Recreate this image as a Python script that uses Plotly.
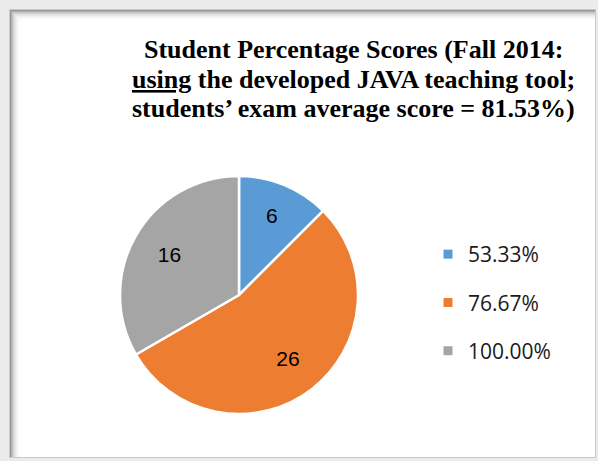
import plotly.graph_objects as go

categories = ["53.33%", "76.67%", "100.00%"]
counts = [6, 26, 16]
colors = ["#5B9BD5", "#ED7D31", "#A5A5A5"]
title_lines = [
    "Student Percentage Scores (Fall 2014:",
    "<u>using</u> the developed JAVA teaching tool;",
    "students\u2019 exam average score = 81.53%)",
]

W, H = 598, 461


def px(x):
    return x / W


def py(y):
    return 1 - y / H


pie_domain = dict(x=[px(120), px(358)], y=[py(414), py(176)])

fig = go.Figure()

# coloured slices
fig.add_trace(go.Pie(
    labels=categories,
    values=counts,
    sort=False,
    direction="clockwise",
    rotation=0,
    marker=dict(colors=colors, line=dict(color="white", width=2.5)),
    textinfo="none",
    showlegend=False,
    domain=pie_domain,
    hoverinfo="label+value",
))

# value labels (same data, ring layout pushes labels outward like Excel best fit)
fig.add_trace(go.Pie(
    labels=categories,
    values=counts,
    sort=False,
    direction="clockwise",
    rotation=0,
    hole=0.35,
    marker=dict(colors=["rgba(0,0,0,0)"] * len(counts), line=dict(width=0)),
    textinfo="value",
    textposition="inside",
    insidetextorientation="horizontal",
    textfont=dict(family="Liberation Sans", size=21, color="#000000"),
    showlegend=False,
    domain=pie_domain,
    hoverinfo="skip",
))

for i, (cat, col) in enumerate(zip(categories, colors)):
    fig.add_trace(go.Scatter(
        x=[None], y=[None], mode="markers", name=cat,
        marker=dict(symbol="square", size=9, color=col),
        legendgroup=f"g{i}", showlegend=True,
    ))

# frame with inner shadow on top/left
shapes = [dict(type="rect", xref="paper", yref="paper", x0=px(9), x1=px(596),
               y0=py(458), y1=py(9), fillcolor="#c8c8c8", line=dict(width=0), layer="below")]
levels = [150, 175, 195, 210, 222, 232, 240, 246, 250, 253, 255]
for k, lv in enumerate(levels):
    shapes.append(dict(type="rect", xref="paper", yref="paper",
                       x0=px(10 + k), x1=px(595), y0=py(457), y1=py(10 + k),
                       fillcolor=f"rgb({lv},{lv},{lv})", line=dict(width=0), layer="below"))

title_y = [50, 79, 108]
annotations = [
    dict(text="<b>" + t + "</b>", xref="paper", yref="paper",
         x=px(353), y=py(yy), xanchor="center", yanchor="middle", showarrow=False,
         font=dict(family="Liberation Serif", size=26, color="#000000"))
    for t, yy in zip(title_lines, title_y)
]

fig.update_layout(
    width=W, height=H,
    margin=dict(l=0, r=0, t=0, b=0),
    paper_bgcolor="#ebebeb",
    plot_bgcolor="rgba(0,0,0,0)",
    xaxis=dict(visible=False),
    yaxis=dict(visible=False),
    shapes=shapes,
    annotations=annotations,
    legend=dict(
        x=px(428), y=py(234), xanchor="left", yanchor="top",
        font=dict(family="Open Sans", size=21, color="#1a1a1a"),
        tracegroupgap=18, bgcolor="rgba(0,0,0,0)",
        itemclick=False, itemdoubleclick=False,
    ),
    showlegend=True,
)

fig.write_html("out.html", config={"displayModeBar": False},
               post_script="document.body.style.margin='0px';")
